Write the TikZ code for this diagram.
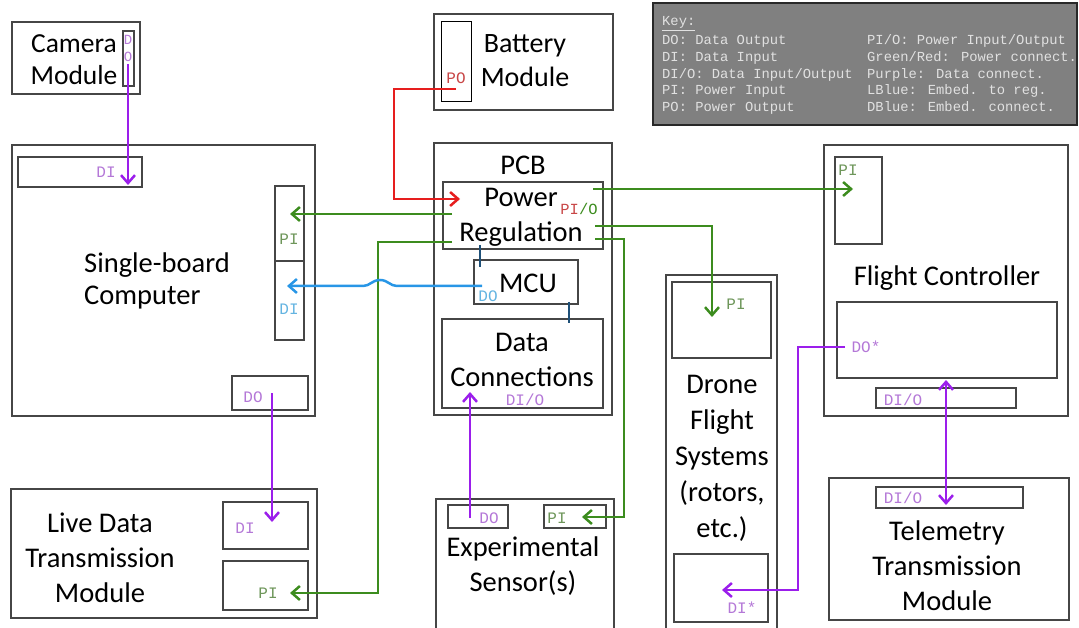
\documentclass[tikz,border=0pt]{standalone}
\usepackage{fontspec}
\setmainfont{Carlito}
\newfontfamily\portfont{Liberation Mono}
\usetikzlibrary{arrows.meta,fit}

\definecolor{boxc}{RGB}{70,70,70}
\definecolor{datac}{RGB}{155,30,235}
\definecolor{datal}{RGB}{180,120,215}
\definecolor{pwrc}{RGB}{60,140,30}
\definecolor{pwrl}{RGB}{110,150,90}
\definecolor{redc}{RGB}{230,30,30}
\definecolor{redl}{RGB}{200,70,70}
\definecolor{lbluec}{RGB}{40,150,230}
\definecolor{lbluel}{RGB}{100,180,225}
\definecolor{dbluec}{RGB}{30,80,120}
\definecolor{keyfill}{RGB}{128,128,128}
\definecolor{keyline}{RGB}{40,40,40}
\definecolor{keytext}{RGB}{225,225,225}

% rectangle node spanning two corners
\newcommand\boxat[3]{\node[box, fit={#2 #3}] (#1) {};}

\begin{document}
\begin{tikzpicture}[x=1pt,y=-1pt,
  box/.style={draw=boxc, line width=1.4pt, inner sep=0pt, outer sep=0pt},
  big/.style={font=\fontsize{28.5}{35}\selectfont, align=center, inner sep=0pt},
  lbl/.style={font=\portfont\fontsize{16}{17}\selectfont, inner sep=0pt},
  keyt/.style={font=\portfont\fontsize{13.8}{16}\selectfont, text=keytext, inner sep=0pt, anchor=base west},
  tip/.style={-{Straight Barb[length=8pt,width=14pt]}},
  both/.style={{Straight Barb[length=8pt,width=14pt]}-{Straight Barb[length=8pt,width=14pt]}},
  pwr/.style={draw=pwrc, line width=2.5pt},
  redw/.style={draw=redc, line width=2.5pt},
  dat/.style={draw=datac, line width=2.5pt},
  emb/.style={draw=lbluec, line width=2.5pt},
  embd/.style={draw=dbluec, line width=2.5pt},
]
\useasboundingbox (0,0) rectangle (1079,628);

% ---------- outer modules ----------
\boxat{cam}{(12,22)}{(140,94)}
\boxat{camDO}{(123,31)}{(134,86)}
\boxat{bat}{(434,14)}{(613,110)}
\node[draw=black, line width=1pt, inner sep=0pt, fit={(441,22) (471,102)}] (batPO) {};
\boxat{sbc}{(12,145)}{(315,416)}
\boxat{sbcDIt}{(18,157)}{(142,187)}
\boxat{sbcPI}{(275,186)}{(304,261)}
\boxat{sbcDI}{(275,261)}{(304,340)}
\boxat{sbcDO}{(232,376)}{(308,410)}
\boxat{ldt}{(11,489)}{(317,618)}
\boxat{ldtDI}{(223,502)}{(308,549)}
\boxat{ldtPI}{(223,561)}{(308,610)}
\boxat{pcb}{(434,143)}{(612,415)}
\boxat{preg}{(443,182)}{(603,249)}
\boxat{mcu}{(474,260)}{(578,304)}
\boxat{dconn}{(442,319)}{(603,408)}
\boxat{exp}{(436,499)}{(614,634)}
\boxat{expDO}{(448,505)}{(508,528)}
\boxat{expPI}{(544,505)}{(606,528)}
\boxat{drone}{(666,275)}{(777,634)}
\boxat{dronePI}{(672,282)}{(771,358)}
\boxat{droneDI}{(674,554)}{(768,622)}
\boxat{fc}{(824,145)}{(1068,416)}
\boxat{fcPI}{(835,157)}{(882,244)}
\boxat{fcDO}{(837,302)}{(1057,378)}
\boxat{fcDIO}{(876,388)}{(1016,408)}
\boxat{tel}{(829,478)}{(1069,620)}
\boxat{telDIO}{(876,487)}{(1023,508)}

% ---------- titles ----------
\node[big, font=\fontsize{27.5}{32}\selectfont] (camT) at (74,60) {Camera\\Module};
\node[big, font=\fontsize{28}{34}\selectfont] (batT) at (525,61) {Battery\\Module};
\node[big, align=left, anchor=west, font=\fontsize{28.5}{32}\selectfont] (sbcT) at (84,281) {Single-board\\Computer};
\node[big] (ldtT) at (100,558) {Live Data\\Transmission\\Module};
\node[big] (pcbT) at (523,165) {PCB};
\node[big] (pregT) at (521,217) {Power\\Regulation};
\node[big] (mcuT) at (528,283) {MCU};
\node[big] (dconnT) at (522,360) {Data\\Connections};
\node[big] (expT) at (523,566) {Experimental\\Sensor(s)};
\node[big, font=\fontsize{28.5}{36}\selectfont] (droneT) at (722,458) {Drone\\Flight\\Systems\\(rotors,\\etc.)};
\node[big] (fcT) at (947,278) {Flight Controller};
\node[big] (telT) at (947,566) {Telemetry\\Transmission\\Module};

% ---------- port labels ----------
\node[lbl, text=datal, align=center, font=\portfont\fontsize{14}{17}\selectfont] (camDOl) at (128,48) {D\\O};
\node[lbl, text=datal] (sbcDItl) at (106,172) {DI};
\node[lbl, text=pwrl] (sbcPIl) at (289,239) {PI};
\node[lbl, text=lbluel] (sbcDIl) at (289,309) {DI};
\node[lbl, text=datal] (sbcDOl) at (253,397) {DO};
\node[lbl, text=datal] (ldtDIl) at (245,528) {DI};
\node[lbl, text=pwrl] (ldtPIl) at (268,593) {PI};
\node[lbl, text=redl] (batPOl) at (456,78) {PO};
\node[lbl, font=\portfont\fontsize{15.5}{17}\selectfont] (pregPIOl) at (579,209) {\textcolor{redl}{PI}\textcolor{pwrc}{/O}};
\node[lbl, text=lbluel] (mcuDOl) at (488,296) {DO};
\node[lbl, text=datal] (dconnl) at (525,400) {DI/O};
\node[lbl, text=datal] (expDOl) at (489,518) {DO};
\node[lbl, text=pwrl] (expPIl) at (557,518) {PI};
\node[lbl, text=pwrl] (dronePIl) at (736,304) {PI};
\node[lbl, text=datal] (droneDIl) at (742,608) {DI*};
\node[lbl, text=pwrl] (fcPIl) at (848,170) {PI};
\node[lbl, text=datal] (fcDOl) at (866,347) {DO*};
\node[lbl, text=datal] (fcDIOl) at (903,400) {DI/O};
\node[lbl, text=datal] (telDIOl) at (903,498) {DI/O};

% ---------- key ----------
\node[draw=keyline, line width=2.4pt, fill=keyfill, inner sep=0pt, fit={(653,3) (1077,125)}] (key) {};
\node[keyt] (keyH) at (662,26) {\underline{Key:}};
\foreach \y/\a/\b [count=\i] in {
  45/{DO: Data Output}/{PI/O: Power Input/Output},
  62/{DI: Data Input}/{Green/Red: Power connect.},
  79/{DI/O: Data Input/Output}/{Purple: Data connect.},
  95/{PI: Power Input}/{LBlue: Embed. to reg.},
  112/{PO: Power Output}/{DBlue: Embed. connect.}}{
  \node[keyt] (keyL\i) at (662,\y) {\a};
  \node[keyt] (keyR\i) at (867,\y) {\b};
}

% ---------- connector end points ----------
\coordinate (camDOp) at (128,64);
\coordinate (sbcDItip) at (128,185);
\coordinate (sbcDOp) at (272,393);
\coordinate (ldtDItip) at (272,522);
\coordinate (expDOp) at (470,518);
\coordinate (dconnTip) at (470,392);
\coordinate (fcDOp) at (845,347);
\coordinate (droneDItip) at (722,590);
\coordinate (fcDIOtip) at (946,380);
\coordinate (telDIOtip) at (946,505);
\coordinate (batPOp) at (456,89);
\coordinate (pregRtip) at (460,199);
\coordinate (pregA) at (452,214);
\coordinate (sbcPItip) at (290,214);
\coordinate (pregB) at (452,242);
\coordinate (ldtPItip) at (290,593);
\coordinate (pregC) at (593,189);
\coordinate (fcPItip) at (853,189);
\coordinate (pregD) at (595,226);
\coordinate (dronePItip) at (712,317);
\coordinate (pregE) at (595,239);
\coordinate (expPItip) at (582,517);
\coordinate (mcuDOp) at (482,286);
\coordinate (sbcDItip2) at (287,286);
\coordinate (tickA1) at (480,245);
\coordinate (tickA2) at (480,267);
\coordinate (tickB1) at (569,302);
\coordinate (tickB2) at (569,323);

% ---------- data connections ----------
\draw[dat,tip] (camDOp) -- (sbcDItip);
\draw[dat,tip] (sbcDOp) -- (ldtDItip);
\draw[dat,tip] (expDOp) -- (dconnTip);
\draw[dat,tip] (fcDOp) -- ++(-47,0) |- (droneDItip);
\draw[dat,both] (fcDIOtip) -- (telDIOtip);

% ---------- power connections ----------
\draw[redw,tip] (batPOp) -- ++(-62,0) |- (pregRtip);
\draw[pwr,tip] (pregA) -- (sbcPItip);
\draw[pwr,tip] (pregB) -- ++(-74,0) |- (ldtPItip);
\draw[pwr,tip] (pregC) -- (fcPItip);
\draw[pwr,tip] (pregD) -| (dronePItip);
\draw[pwr,tip] (pregE) -- ++(29,0) |- (expPItip);

% ---------- embedded links ----------
\draw[emb,tip] (mcuDOp) -- (397,286)
  .. controls (390,286) and (388,280) .. (380,280)
  .. controls (372,280) and (370,286) .. (363,286) -- (sbcDItip2);
\draw[embd] (tickA1) -- (tickA2);
\draw[embd] (tickB1) -- (tickB2);
\end{tikzpicture}
\end{document}
